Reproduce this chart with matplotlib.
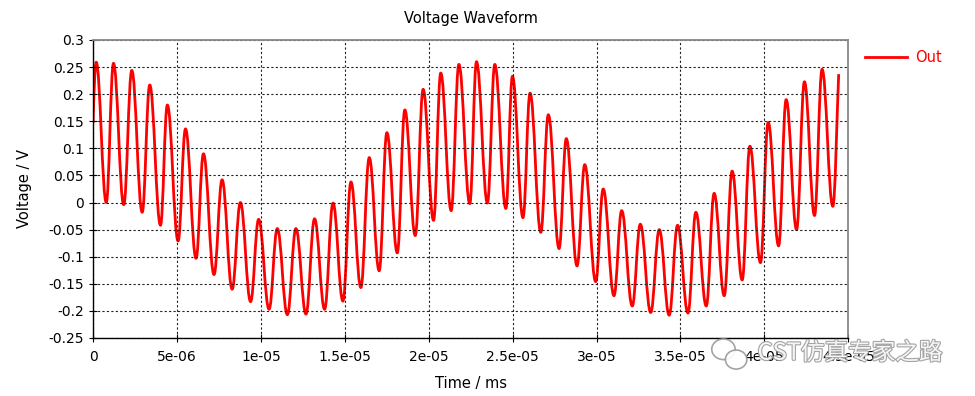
import numpy as np
import matplotlib
matplotlib.use("Agg")
from matplotlib import pyplot as plt
from matplotlib.ticker import FuncFormatter, MultipleLocator
from matplotlib.path import Path
from matplotlib.patches import PathPatch, Ellipse
from matplotlib.lines import Line2D
import matplotlib.patheffects as pe

# peaks and troughs of the waveform, time in units of 1e-6 ms
tiempo_us = [0.0, 0.19, 0.79, 1.22, 1.83, 2.31, 2.93, 3.38, 4.02, 4.43, 5.07,
             5.51, 6.14, 6.58, 7.21, 7.69, 8.29, 8.78, 9.39, 9.87, 10.49,
             10.98, 11.58, 12.09, 12.69, 13.20, 13.80, 14.30, 14.89, 15.37,
             15.96, 16.46, 17.05, 17.51, 18.13, 18.58, 19.20, 19.67, 20.29,
             20.72, 21.34, 21.80, 22.45, 22.85, 23.50, 23.94, 24.60, 24.99,
             25.62, 26.04, 26.68, 27.13, 27.77, 28.20, 28.84, 29.30, 29.95,
             30.40, 31.04, 31.50, 32.13, 32.61, 33.23, 33.74, 34.33, 34.83,
             35.45, 35.92, 36.54, 37.01, 37.61, 38.08, 38.68, 39.14, 39.77,
             40.23, 40.85, 41.30, 41.92, 42.39, 42.99, 43.44, 44.08, 44.43]
voltaje = [0.147, 0.259, 0.000, 0.257, -0.004, 0.244, -0.018, 0.217, -0.042,
           0.180, -0.071, 0.136, -0.103, 0.090, -0.133, 0.042, -0.160, 0.000,
           -0.183, -0.031, -0.197, -0.048, -0.207, -0.048, -0.206, -0.030,
           -0.197, -0.001, -0.182, 0.038, -0.157, 0.083, -0.126, 0.129,
           -0.093, 0.171, -0.061, 0.209, -0.033, 0.239, -0.015, 0.255,
           -0.002, 0.260, -0.001, 0.255, -0.011, 0.233, -0.028, 0.202,
           -0.055, 0.162, -0.085, 0.118, -0.117, 0.070, -0.146, 0.025,
           -0.172, -0.015, -0.191, -0.040, -0.203, -0.050, -0.208, -0.042,
           -0.204, -0.018, -0.191, 0.017, -0.172, 0.058, -0.143, 0.104,
           -0.111, 0.148, -0.080, 0.190, -0.050, 0.223, -0.024, 0.246,
           -0.007, 0.237]

ROJO = '#ff0000'
tiempo = np.array(tiempo_us) * 1e-6


def curva_suave(t, v, k=0.4):
    # cubic segments between extremes, flat tangent at each peak/trough
    verts = [(t[0], v[0])]
    codes = [Path.MOVETO]
    n = len(t)
    for i in range(n - 1):
        dt = t[i + 1] - t[i]
        if i == 0:
            c1 = (t[i] + dt * 0.3, v[i] + (v[i + 1] - v[i]) * 0.5)
        else:
            c1 = (t[i] + k * dt, v[i])
        if i == n - 2:
            c2 = (t[i + 1] - dt * 0.3, v[i + 1] - (v[i + 1] - v[i]) * 0.3)
        else:
            c2 = (t[i + 1] - k * dt, v[i + 1])
        verts += [c1, c2, (t[i + 1], v[i + 1])]
        codes += [Path.CURVE4] * 3
    return Path(verts, codes)


fig = plt.figure(figsize=(9.75, 3.96), dpi=100)
ax = fig.add_axes([0.0954, 0.1465, 0.7746, 0.7525])

ax.add_patch(PathPatch(curva_suave(tiempo, voltaje), facecolor='none',
                       edgecolor=ROJO, linewidth=2.0, joinstyle='round'))

ax.set_xlim(0, 4.5e-5)
ax.set_ylim(-0.25, 0.3)
ax.xaxis.set_major_locator(MultipleLocator(5e-6))
ax.yaxis.set_major_locator(MultipleLocator(0.05))
fmt = FuncFormatter(lambda v, pos: '{:g}'.format(round(v, 10)))
ax.xaxis.set_major_formatter(fmt)
ax.yaxis.set_major_formatter(fmt)

ax.grid(True, color='#222222', linestyle=(0, (2, 2)), linewidth=0.8)
ax.tick_params(direction='inout', length=6, width=0.8, labelsize=10,
               colors='black')
ax.tick_params(axis='x', pad=6)

for lado in ['left', 'bottom']:
    ax.spines[lado].set_color('black')
    ax.spines[lado].set_linewidth(1.0)
for lado in ['top', 'right']:
    ax.spines[lado].set_color('#888888')
    ax.spines[lado].set_linewidth(1.3)

ax.set_title("Voltage Waveform", fontsize=10.5, pad=12)
ax.set_xlabel("Time / ms", fontsize=10.5, labelpad=8)
ax.set_ylabel("Voltage / V", fontsize=10.5, labelpad=12)

ax.legend(handles=[Line2D([], [], color=ROJO, linewidth=2.0)],
          labels=['Out'], loc='upper left', bbox_to_anchor=(1.005, 1.01),
          frameon=False, fontsize=10.5, labelcolor=ROJO, handlelength=2.9,
          handletextpad=0.5)

# watermark
for cx, cy, w, h in [(0.742, 0.118, 0.024, 0.052), (0.755, 0.092, 0.022, 0.048)]:
    fig.add_artist(Ellipse((cx, cy), w, h, transform=fig.transFigure,
                           facecolor='white', edgecolor='#9a9a9a',
                           linewidth=1.2, alpha=0.9))
fig.text(0.777, 0.108, "CST仿真专家之路", fontsize=17, color='white',
         family=['Noto Sans CJK SC', 'DejaVu Sans'], va='center', ha='left',
         alpha=0.9,
         path_effects=[pe.withStroke(linewidth=1.6, foreground='#9a9a9a')])

fig.savefig("out.png", dpi=100)
